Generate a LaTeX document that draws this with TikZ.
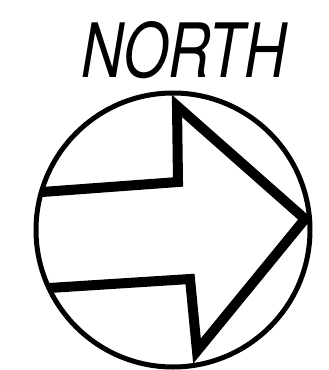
\documentclass[tikz,border=0pt]{standalone}
\usepackage{fontspec}
\newfontfamily\northfont{TeX Gyre Heros}

\begin{document}
\begin{tikzpicture}[x=1pt,y=-1pt]
\useasboundingbox (0,0) rectangle (329,370);
\coordinate (O) at (173,230);
\coordinate (A) at (42,192);
\coordinate (B) at (178,182);
\coordinate (C) at (177,106);
\coordinate (D) at (305,219);
\coordinate (E) at (197,351);
\coordinate (F) at (190,279);
\coordinate (G) at (49,288);

\draw[line width=5pt] (O) circle[radius=137];

\draw[line width=10pt,line join=miter] (A) -- (B) -- (C) -- (D) -- (E) -- (F) -- (G);

\node[anchor=base,xscale=0.78,inner sep=0] (label) at (184,77)
  {\northfont\itshape\fontsize{75}{75}\selectfont NORTH};
\end{tikzpicture}
\end{document}
